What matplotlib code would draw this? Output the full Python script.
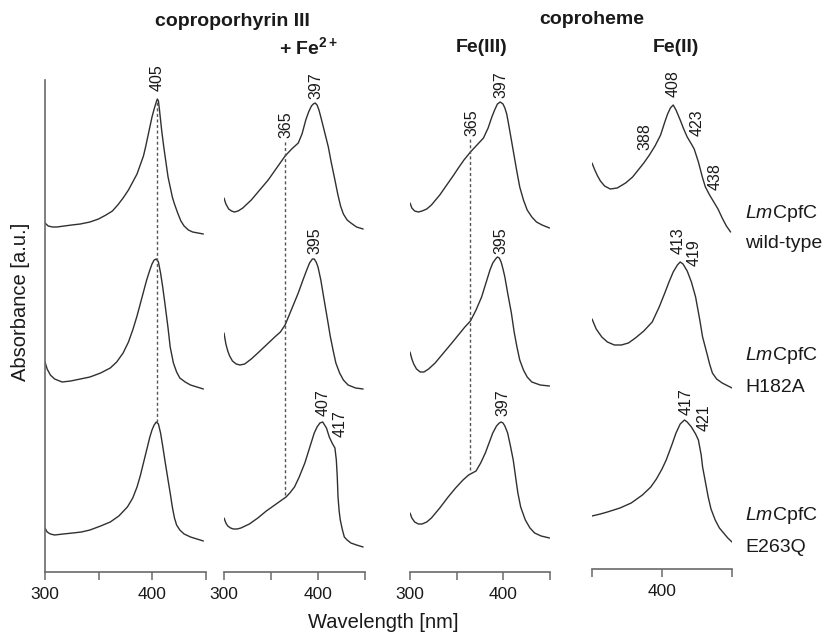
import matplotlib
matplotlib.use('Agg')
import matplotlib.pyplot as plt

plt.rcParams['font.family'] = ['Liberation Sans', 'DejaVu Sans']
plt.rcParams['mathtext.fontset'] = 'custom'
plt.rcParams['mathtext.rm'] = 'Liberation Sans'
plt.rcParams['mathtext.it'] = 'Liberation Sans:italic'
plt.rcParams['mathtext.bf'] = 'Liberation Sans:bold'

# ---------------- data (wavelength [nm], absorbance [a.u.]) ----------------
# Panel 1: coproporphyrin III
wl_cp_wt = [300, 303, 307, 311, 318, 325, 333, 342, 350, 357, 363, 368, 373, 378, 382, 386, 389, 392, 394, 396,
            398, 400, 402, 404, 405, 406, 407, 408, 409, 411, 413, 415, 417, 419, 421, 424, 427, 430, 434, 438, 443, 448]
ab_cp_wt = [0.19, 0.16, 0.15, 0.15, 0.16, 0.17, 0.18, 0.20, 0.23, 0.27, 0.31, 0.37, 0.44, 0.52, 0.60, 0.68, 0.77, 0.86, 0.95, 1.05,
            1.15, 1.25, 1.33, 1.40, 1.43, 1.41, 1.32, 1.22, 1.12, 0.95, 0.80, 0.65, 0.55, 0.45, 0.38, 0.29, 0.21, 0.16, 0.12, 0.10, 0.09, 0.08]
wl_cp_h182a = [300, 302, 305, 309, 316, 324, 333, 342, 352, 361, 367, 373, 378, 382, 386, 389, 392, 395, 398, 400,
               402, 404, 406, 408, 410, 412, 415, 417, 420, 423, 426, 431, 436, 442, 448]
ab_cp_h182a = [0.30, 0.23, 0.17, 0.13, 0.10, 0.11, 0.13, 0.15, 0.19, 0.24, 0.30, 0.39, 0.50, 0.62, 0.76, 0.88, 1.00, 1.12, 1.22, 1.28,
               1.32, 1.33, 1.30, 1.19, 1.05, 0.89, 0.64, 0.45, 0.29, 0.20, 0.14, 0.10, 0.07, 0.05, 0.03]
wl_cp_e263q = [300, 302, 305, 309, 317, 326, 334, 342, 352, 361, 369, 377, 382, 386, 389, 392, 395, 398, 400, 402,
               404, 406, 408, 410, 412, 415, 417, 419, 421, 423, 426, 430, 436, 442, 448]
ab_cp_e263q = [0.19, 0.15, 0.13, 0.12, 0.13, 0.14, 0.15, 0.17, 0.21, 0.25, 0.31, 0.40, 0.49, 0.60, 0.71, 0.84, 0.97, 1.10, 1.17, 1.22,
               1.25, 1.23, 1.14, 1.01, 0.87, 0.67, 0.54, 0.40, 0.29, 0.22, 0.17, 0.13, 0.10, 0.08, 0.06]

# Panel 2: coproporphyrin III + Fe2+
wl_fe_wt = [300, 302, 305, 308, 311, 315, 320, 329, 338, 347, 356, 365, 372, 379, 383, 387, 390, 393, 395, 397,
            399, 401, 403, 407, 411, 414, 418, 421, 424, 427, 431, 435, 441, 448]
ab_fe_wt = [0.44, 0.38, 0.33, 0.31, 0.30, 0.31, 0.34, 0.42, 0.52, 0.62, 0.74, 0.86, 0.93, 0.99, 1.08, 1.22, 1.30, 1.36, 1.38, 1.39,
            1.37, 1.32, 1.25, 1.10, 0.95, 0.80, 0.62, 0.48, 0.36, 0.28, 0.22, 0.19, 0.15, 0.13]
wl_fe_h182a = [300, 302, 304, 306, 309, 313, 317, 322, 329, 336, 345, 354, 360, 365, 372, 379, 384, 388, 391, 394,
               396, 398, 400, 403, 406, 410, 413, 416, 419, 423, 427, 432, 440, 448]
ab_fe_h182a = [0.59, 0.48, 0.41, 0.36, 0.31, 0.28, 0.27, 0.28, 0.33, 0.39, 0.47, 0.55, 0.60, 0.67, 0.83, 0.99, 1.12, 1.22, 1.29, 1.33,
               1.33, 1.30, 1.25, 1.12, 0.95, 0.73, 0.56, 0.42, 0.29, 0.19, 0.12, 0.07, 0.04, 0.03]
wl_fe_e263q = [300, 302, 304, 307, 310, 314, 318, 327, 336, 345, 354, 360, 366, 370, 375, 380, 386, 391, 396, 399,
               402, 405, 407, 409, 412, 415, 418, 419.5, 420.5, 421.3, 422.5, 423.7, 426, 428, 431, 435, 441, 448]
ab_fe_e263q = [0.29, 0.24, 0.21, 0.19, 0.18, 0.18, 0.19, 0.23, 0.29, 0.36, 0.42, 0.46, 0.50, 0.54, 0.60, 0.70, 0.84, 0.99, 1.14, 1.20,
               1.24, 1.25, 1.22, 1.19, 1.10, 1.04, 0.99, 0.87, 0.70, 0.50, 0.36, 0.27, 0.17, 0.10, 0.07, 0.04, 0.02, 0.00]

# Panel 3: coproheme Fe(III)
wl_f3_wt = [300, 302, 305, 309, 313, 318, 323, 332, 341, 347, 352, 358, 365, 372, 379, 384, 388, 391, 394, 397,
            400, 402, 404, 406, 409, 412, 415, 418, 422, 426, 431, 436, 442, 450]
ab_f3_wt = [0.39, 0.34, 0.31, 0.30, 0.31, 0.33, 0.37, 0.47, 0.59, 0.67, 0.74, 0.82, 0.90, 0.97, 1.04, 1.14, 1.25, 1.32, 1.38, 1.40,
            1.38, 1.34, 1.28, 1.18, 1.02, 0.86, 0.70, 0.55, 0.42, 0.32, 0.25, 0.20, 0.17, 0.14]
wl_f3_h182a = [300, 302, 304, 307, 311, 315, 320, 327, 336, 345, 352, 359, 365, 371, 377, 382, 386, 389, 392, 394,
               396, 398, 400, 402, 405, 409, 412, 415, 418, 422, 426, 431, 440, 450]
ab_f3_h182a = [0.40, 0.33, 0.28, 0.23, 0.20, 0.20, 0.23, 0.29, 0.39, 0.49, 0.57, 0.65, 0.71, 0.82, 0.95, 1.10, 1.22, 1.29, 1.33, 1.35,
               1.34, 1.30, 1.23, 1.15, 0.99, 0.79, 0.60, 0.45, 0.32, 0.22, 0.15, 0.10, 0.07, 0.06]
wl_f3_e263q = [300, 302, 305, 309, 313, 318, 323, 332, 341, 349, 357, 363, 367, 371, 376, 381, 385, 389, 393, 396,
               398, 400, 402, 405, 408, 411, 414, 416, 419, 424, 429, 434, 441, 450]
ab_f3_e263q = [0.34, 0.29, 0.25, 0.23, 0.23, 0.25, 0.29, 0.39, 0.50, 0.59, 0.67, 0.72, 0.74, 0.76, 0.84, 0.94, 1.04, 1.14, 1.21, 1.24,
               1.25, 1.24, 1.21, 1.14, 1.01, 0.87, 0.67, 0.54, 0.40, 0.27, 0.19, 0.14, 0.11, 0.09]

# Panel 4: coproheme Fe(II)
wl_f2_wt = [350, 352, 354, 356, 359, 363, 368, 374, 379, 383, 387, 391, 395, 399, 402, 404, 406, 408, 410, 413,
            415.5, 418, 421, 423, 426, 429, 431, 434, 437, 440, 443, 446, 449]
ab_f2_wt = [0.79, 0.72, 0.66, 0.61, 0.56, 0.53, 0.54, 0.59, 0.65, 0.72, 0.79, 0.87, 0.96, 1.07, 1.20, 1.28, 1.34, 1.37, 1.32, 1.22,
            1.13, 1.05, 0.98, 0.93, 0.80, 0.64, 0.55, 0.47, 0.40, 0.33, 0.24, 0.16, 0.10]
wl_f2_h182a = [350, 353, 357, 361, 366, 371, 376, 381, 387, 393, 398, 402, 405, 408, 411, 413, 415, 418, 421, 424,
               427, 429, 432, 434, 436, 439, 443, 450]
ab_f2_h182a = [0.73, 0.63, 0.55, 0.50, 0.47, 0.47, 0.49, 0.54, 0.61, 0.70, 0.85, 0.99, 1.10, 1.20, 1.27, 1.30, 1.28, 1.21, 1.10, 0.95,
               0.72, 0.55, 0.39, 0.28, 0.19, 0.13, 0.09, 0.04]
wl_f2_e263q = [350, 356, 361, 370, 378, 386, 392, 396, 400, 403, 407, 410, 413, 416, 418, 421, 424, 426, 428, 429,
               431, 433, 435, 438, 441, 444, 447, 450]
ab_f2_e263q = [0.31, 0.33, 0.35, 0.39, 0.44, 0.52, 0.60, 0.68, 0.78, 0.87, 1.02, 1.14, 1.23, 1.27, 1.25, 1.20, 1.13, 1.07, 0.92, 0.80,
               0.65, 0.50, 0.38, 0.27, 0.19, 0.14, 0.09, 0.05]

row_names = ['wild-type', 'H182A', 'E263Q']
row_offsets = [3.30, 1.80, 0.25]

# peak labels: (text, wavelength position, absorbance position)
labels_cp = [('405', 404.7, 4.94)]
labels_fe = [('365', 366, 4.47), ('397', 397.9, 4.86), ('395', 396.8, 3.31),
             ('407', 405.3, 1.69), ('417', 423.4, 1.48)]
labels_f3 = [('365', 366.7, 4.49), ('397', 397.8, 4.87), ('395', 397.8, 3.31),
             ('397', 400.0, 1.69)]
labels_f2 = [('408', 407.9, 4.88), ('388', 387.9, 4.35), ('423', 425.0, 4.49),
             ('438', 437.9, 3.95), ('413', 411.4, 3.31), ('419', 422.9, 3.19),
             ('417', 417.1, 1.70), ('421', 430.0, 1.54)]

# dotted guide lines: (wavelength, y from, y to)
guide_cp = (405, 1.50, 4.72)
guide_fe = (365, 0.77, 4.32)
guide_f3 = (365, 1.02, 4.34)

panels = [
    dict(rect=[45/827, 61/633, 160.5/827, 492/633], xlim=(300, 450),
         ticks=[300, 350, 400, 450], ticklabels=['300', '', '400', ''],
         curves=[(wl_cp_wt, ab_cp_wt), (wl_cp_h182a, ab_cp_h182a), (wl_cp_e263q, ab_cp_e263q)],
         labels=labels_cp, guide=guide_cp, left=True, bottom_pos=0.0),
    dict(rect=[224/827, 61/633, 141/827, 492/633], xlim=(300, 450),
         ticks=[300, 350, 400, 450], ticklabels=['300', '', '400', ''],
         curves=[(wl_fe_wt, ab_fe_wt), (wl_fe_h182a, ab_fe_h182a), (wl_fe_e263q, ab_fe_e263q)],
         labels=labels_fe, guide=guide_fe, left=False, bottom_pos=0.0),
    dict(rect=[410/827, 61/633, 139.5/827, 492/633], xlim=(300, 450),
         ticks=[300, 350, 400, 450], ticklabels=['300', '', '400', ''],
         curves=[(wl_f3_wt, ab_f3_wt), (wl_f3_h182a, ab_f3_h182a), (wl_f3_e263q, ab_f3_e263q)],
         labels=labels_f3, guide=guide_f3, left=False, bottom_pos=0.0),
    dict(rect=[592/827, 61/633, 140/827, 492/633], xlim=(350, 450),
         ticks=[350, 400, 450], ticklabels=['', '400', ''],
         curves=[(wl_f2_wt, ab_f2_wt), (wl_f2_h182a, ab_f2_h182a), (wl_f2_e263q, ab_f2_e263q)],
         labels=labels_f2, guide=None, left=False, bottom_pos=0.03),
]

line_col = '#303030'
axis_col = '#6a6a6a'
text_col = '#1a1a1a'

fig = plt.figure(figsize=(8.27, 6.33), dpi=100)
fig.patch.set_facecolor('white')

for p in panels:
    ax = fig.add_axes(p['rect'])
    ax.set_facecolor('none')
    ax.set_xlim(*p['xlim'])
    ax.set_ylim(0, 4.92)
    for (wl, ab), off in zip(p['curves'], row_offsets):
        ax.plot(wl, [a + off for a in ab], color=line_col, lw=1.0,
                solid_joinstyle='round', solid_capstyle='round')
    if p['guide'] is not None:
        gx, gy0, gy1 = p['guide']
        ax.plot([gx, gx], [gy0, gy1], color='#555555', lw=1.0, ls=(0, (2.2, 1.8)))
    for t, x, y in p['labels']:
        ax.text(x, y, t, rotation=90, ha='center', va='center', fontsize=11.5,
                color=text_col, clip_on=False)
    ax.spines['top'].set_visible(False)
    ax.spines['right'].set_visible(False)
    ax.spines['left'].set_visible(p['left'])
    ax.spines['left'].set_color(axis_col)
    ax.spines['left'].set_linewidth(1.2)
    ax.spines['bottom'].set_color(axis_col)
    ax.spines['bottom'].set_linewidth(1.2)
    ax.spines['bottom'].set_position(('data', p['bottom_pos']))
    ax.set_yticks([])
    ax.set_xticks(p['ticks'])
    ax.set_xticklabels(p['ticklabels'])
    ax.tick_params(axis='x', direction='out', length=6, width=1.1, color=axis_col,
                   labelcolor=text_col, labelsize=12.5, pad=5)

# headers
fig.text(232/827, 1 - 22/633, 'coproporhyrin III', ha='center', va='center',
         fontsize=14, fontweight='bold', color=text_col)
fig.text(309/827, 1 - 47/633, r'+ Fe$^{\mathbf{2+}}$', ha='center', va='center',
         fontsize=14, fontweight='bold', color=text_col)
fig.text(592/827, 1 - 20/633, 'coproheme', ha='center', va='center',
         fontsize=14, fontweight='bold', color=text_col)
fig.text(482/827, 1 - 47/633, 'Fe(III)', ha='center', va='center',
         fontsize=14, fontweight='bold', color=text_col)
fig.text(676/827, 1 - 47/633, 'Fe(II)', ha='center', va='center',
         fontsize=14, fontweight='bold', color=text_col)

# row labels
row_label_y = [(213, 243), (355, 387), (515, 547)]
for name, (y1, y2) in zip(row_names, row_label_y):
    fig.text(745/827, 1 - y1/633, r'$\mathit{Lm}$CpfC', ha='left', va='center',
             fontsize=14, color=text_col)
    fig.text(745/827, 1 - y2/633, name, ha='left', va='center',
             fontsize=14, color=text_col)

# axis labels
fig.text(383/827, 1 - 622/633, 'Wavelength [nm]', ha='center', va='center',
         fontsize=14.5, color=text_col)
fig.text(21/827, 1 - 302/633, 'Absorbance [a.u.]', ha='center', va='center',
         rotation=90, fontsize=14.5, color=text_col)

fig.savefig('out.png', dpi=100, facecolor='white')
